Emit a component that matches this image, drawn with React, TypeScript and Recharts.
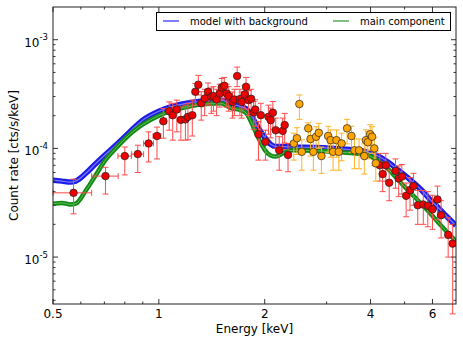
import { ComposedChart, Line, Scatter, XAxis, YAxis, ErrorBar } from "recharts";

// ---------------------------------------------------------------------------
// Layout (page pixels)
// ---------------------------------------------------------------------------

const W = 463;
const H = 342;
const PLOT = { left: 53, right: 456, top: 7, bottom: 304 };
const FONT = "'DejaVu Sans', 'Liberation Sans', sans-serif";

// ---------------------------------------------------------------------------
// Data
// ---------------------------------------------------------------------------

// model curves share one energy grid (keV)
const modelEnergy = [
  0.5, 0.53, 0.56, 0.58, 0.62, 0.66, 0.7, 0.75, 0.8, 0.85, 0.9, 1.0, 1.1, 1.2,
  1.3, 1.4, 1.5, 1.55, 1.6, 1.7, 1.77, 1.82, 1.87, 1.93, 2.0, 2.08, 2.15, 2.25,
  2.4, 2.8, 3.3, 3.9, 4.2, 4.5, 4.8, 5.2, 5.6, 5.9, 6.3, 6.6, 7.0,
];
const modelWithBackground = [
  5.1e-5, 5.0e-5, 4.9e-5, 5.0e-5, 5.9e-5, 7.2e-5, 8.6e-5, 1.05e-4, 1.28e-4,
  1.55e-4, 1.82e-4, 2.2e-4, 2.45e-4, 2.6e-4, 2.7e-4, 2.76e-4, 2.78e-4, 2.7e-4,
  2.56e-4, 2.45e-4, 2.32e-4, 2.08e-4, 1.78e-4, 1.5e-4, 1.26e-4, 1.09e-4,
  1.04e-4, 1.04e-4, 1.03e-4, 1.02e-4, 9.9e-5, 9.3e-5, 8.5e-5, 7.4e-5, 6.3e-5,
  5.1e-5, 4.1e-5, 3.4e-5, 2.75e-5, 2.35e-5, 1.95e-5,
];
const mainComponent = [
  3.1e-5, 3.15e-5, 3.05e-5, 3.1e-5, 4.1e-5, 5.6e-5, 7.6e-5, 9.8e-5, 1.22e-4,
  1.45e-4, 1.66e-4, 2.0e-4, 2.25e-4, 2.4e-4, 2.52e-4, 2.58e-4, 2.6e-4, 2.5e-4,
  2.36e-4, 2.26e-4, 2.12e-4, 1.82e-4, 1.5e-4, 1.2e-4, 9.7e-5, 8.6e-5, 8.4e-5,
  9.0e-5, 9.6e-5, 9.5e-5, 9.2e-5, 8.7e-5, 7.7e-5, 6.4e-5, 5.1e-5, 3.9e-5,
  3.05e-5, 2.55e-5, 2.0e-5, 1.7e-5, 1.4e-5,
];

// source spectrum (red)
const srcEnergy = [
  0.572, 0.705, 0.8, 0.871, 0.935, 0.988, 1.03, 1.07, 1.095, 1.125, 1.155, 1.19,
  1.21, 1.245, 1.27, 1.295, 1.32, 1.35, 1.38, 1.41, 1.43, 1.46, 1.49, 1.51,
  1.535, 1.56, 1.58, 1.62, 1.64, 1.67, 1.7, 1.72, 1.755, 1.77, 1.8, 1.83, 1.86,
  1.88, 1.92, 1.95, 2.01, 2.05, 2.08, 2.11, 2.15, 2.2, 2.25, 2.28, 2.33, 4.25,
  4.33, 4.42, 4.52, 4.71, 4.81, 4.91, 5.05, 5.18, 5.3, 5.45, 5.65, 5.82, 6.0,
  6.2, 6.35, 6.65, 6.85,
];
const srcRate = [
  3.9e-5, 5.56e-5, 8.5e-5, 8.86e-5, 1.11e-4, 1.3e-4, 1.78e-4, 2.2e-4, 2.02e-4,
  2.28e-4, 1.83e-4, 1.85e-4, 1.95e-4, 2.02e-4, 3.32e-4, 3.85e-4, 2.6e-4,
  2.88e-4, 3.32e-4, 2.98e-4, 3.03e-4, 2.82e-4, 3.2e-4, 3.64e-4, 3.77e-4, 3.2e-4,
  3.03e-4, 2.68e-4, 2.82e-4, 4.63e-4, 2.84e-4, 2.68e-4, 3.14e-4, 3.69e-4,
  2.78e-4, 2.86e-4, 2.14e-4, 2.28e-4, 1.35e-4, 2.02e-4, 1.15e-4, 1.95e-4,
  1.82e-4, 2.13e-4, 1.47e-4, 9.6e-5, 1.45e-4, 1.64e-4, 8.7e-5, 7.0e-5, 5.8e-5,
  7.0e-5, 4.83e-5, 6.2e-5, 5.3e-5, 5.5e-5, 3.66e-5, 4.13e-5, 4.5e-5, 3.0e-5,
  3.05e-5, 2.96e-5, 2.75e-5, 3.39e-5, 2.43e-5, 1.6e-5, 1.33e-5,
];
const srcEnergyErr = [
  0.072, 0.061, 0.035, 0.034, 0.03, 0.025, 0.02, 0.018, 0.015, 0.015, 0.015,
  0.015, 0.013, 0.013, 0.013, 0.013, 0.013, 0.013, 0.013, 0.013, 0.012, 0.012,
  0.012, 0.012, 0.012, 0.012, 0.012, 0.012, 0.012, 0.012, 0.012, 0.012, 0.012,
  0.012, 0.012, 0.012, 0.012, 0.012, 0.015, 0.015, 0.015, 0.015, 0.015, 0.015,
  0.015, 0.02, 0.02, 0.02, 0.02, 0.04, 0.04, 0.04, 0.05, 0.05, 0.05, 0.05, 0.06,
  0.06, 0.06, 0.07, 0.07, 0.08, 0.08, 0.09, 0.09, 0.1, 0.1,
];
const srcRateLow = [
  2.5e-5, 3.8e-5, 5.7e-5, 6.0e-5, 7.5e-5, 8.0e-5, 1.24e-4, 1.47e-4, 1.19e-4,
  1.42e-4, 1.19e-4, 1.19e-4, 1.2e-4, 1.3e-4, 2.5e-4, 3.1e-4, 1.82e-4, 2.0e-4,
  2.5e-4, 2.1e-4, 2.2e-4, 2.0e-4, 2.4e-4, 2.8e-4, 2.9e-4, 2.4e-4, 2.2e-4,
  1.9e-4, 2.0e-4, 3.7e-4, 2.0e-4, 1.9e-4, 2.3e-4, 2.8e-4, 2.0e-4, 2.1e-4,
  1.5e-4, 1.6e-4, 7.8e-5, 1.4e-4, 7.8e-5, 1.35e-4, 1.25e-4, 1.5e-4, 1.0e-4,
  6.3e-5, 9.8e-5, 1.12e-4, 6.1e-5, 5.0e-5, 4.0e-5, 5.0e-5, 3.3e-5, 4.3e-5,
  3.6e-5, 3.8e-5, 2.35e-5, 2.7e-5, 3.0e-5, 2.0e-5, 2.0e-5, 1.9e-5, 1.8e-5,
  2.2e-5, 1.5e-5, 1.0e-5, 3.0e-6,
];
const srcRateHigh = [
  5.2e-5, 6.7e-5, 1.03e-4, 1.07e-4, 1.42e-4, 1.57e-4, 2.33e-4, 2.68e-4, 2.6e-4,
  2.78e-4, 2.41e-4, 2.5e-4, 2.6e-4, 2.78e-4, 3.96e-4, 4.7e-4, 3.32e-4, 3.5e-4,
  4.0e-4, 3.6e-4, 3.7e-4, 3.5e-4, 3.9e-4, 4.4e-4, 4.5e-4, 3.9e-4, 3.7e-4,
  3.3e-4, 3.5e-4, 5.6e-4, 3.5e-4, 3.3e-4, 3.8e-4, 4.5e-4, 3.4e-4, 3.5e-4,
  2.7e-4, 2.8e-4, 1.76e-4, 2.6e-4, 1.47e-4, 2.5e-4, 2.35e-4, 2.7e-4, 1.9e-4,
  1.28e-4, 1.9e-4, 2.1e-4, 1.11e-4, 9.0e-5, 7.5e-5, 9.0e-5, 6.3e-5, 8.0e-5,
  6.9e-5, 7.1e-5, 4.8e-5, 5.4e-5, 5.9e-5, 4.1e-5, 4.1e-5, 4.0e-5, 3.7e-5,
  4.5e-5, 3.3e-5, 2.3e-5, 2.0e-5,
];

// second data set (orange)
const bkgEnergy = [
  2.42, 2.47, 2.51, 2.55, 2.66, 2.7, 2.75, 2.8, 2.85, 2.9, 3.03, 3.08, 3.13, 3.2,
  3.25, 3.31, 3.43, 3.53, 3.6, 3.71, 3.84, 3.88, 3.93, 3.99, 4.04, 4.1, 4.14,
];
const bkgRate = [
  1.11e-4, 1.24e-4, 2.56e-4, 9.3e-5, 1.53e-4, 1.22e-4, 9.3e-5, 1.28e-4, 1.39e-4,
  8.5e-5, 1.3e-4, 1.19e-4, 9.3e-5, 1.19e-4, 9.3e-5, 1.11e-4, 1.53e-4, 1.3e-4,
  9.6e-5, 9.6e-5, 8.5e-5, 1.19e-4, 1.14e-4, 1.35e-4, 1.28e-4, 1.0e-4, 7.3e-5,
];
const bkgEnergyErr = [
  0.025, 0.025, 0.025, 0.025, 0.025, 0.025, 0.025, 0.025, 0.025, 0.025, 0.03,
  0.03, 0.03, 0.03, 0.03, 0.03, 0.03, 0.03, 0.03, 0.03, 0.03, 0.03, 0.03, 0.03,
  0.03, 0.03, 0.03,
];
const bkgRateLow = [
  7.8e-5, 8.8e-5, 1.85e-4, 6.3e-5, 1.15e-4, 8.5e-5, 6.3e-5, 9.0e-5, 1.0e-4,
  5.9e-5, 9.2e-5, 8.3e-5, 6.3e-5, 8.3e-5, 6.3e-5, 7.7e-5, 1.1e-4, 9.2e-5,
  6.5e-5, 6.5e-5, 5.8e-5, 8.3e-5, 8.0e-5, 9.6e-5, 9.0e-5, 7.0e-5, 5.0e-5,
];
const bkgRateHigh = [
  1.38e-4, 1.55e-4, 3.1e-4, 1.2e-4, 1.72e-4, 1.5e-4, 1.2e-4, 1.58e-4, 1.7e-4,
  1.03e-4, 1.6e-4, 1.48e-4, 1.2e-4, 1.48e-4, 1.2e-4, 1.38e-4, 1.85e-4, 1.6e-4,
  1.22e-4, 1.22e-4, 1.1e-4, 1.48e-4, 1.42e-4, 1.65e-4, 1.58e-4, 1.25e-4, 9.5e-5,
];

const xMajorTicks = [0.5, 1, 2, 4, 6];
const xMinorTicks = [0.6, 0.7, 0.8, 0.9, 3, 5];
const yMajorTicks = [1e-5, 1e-4, 1e-3];
const yMinorTicks = [
  4e-6, 5e-6, 6e-6, 7e-6, 8e-6, 9e-6, 2e-5, 3e-5, 4e-5, 5e-5, 6e-5, 7e-5, 8e-5,
  9e-5, 2e-4, 3e-4, 4e-4, 5e-4, 6e-4, 7e-4, 8e-4, 9e-4,
];

// ---------------------------------------------------------------------------
// Helpers
// ---------------------------------------------------------------------------

const modelBgData = modelEnergy.map((e, i) => ({ e, v: modelWithBackground[i] }));
const mainData = modelEnergy.map((e, i) => ({ e, v: mainComponent[i] }));

function toPoints(
  energy: number[],
  rate: number[],
  eErr: number[],
  lo: number[],
  hi: number[],
) {
  return energy.map((e, i) => ({
    e,
    v: rate[i],
    ex: [eErr[i], eErr[i]],
    ey: [rate[i] - lo[i], hi[i] - rate[i]],
  }));
}

const srcData = toPoints(srcEnergy, srcRate, srcEnergyErr, srcRateLow, srcRateHigh);
const bkgData = toPoints(bkgEnergy, bkgRate, bkgEnergyErr, bkgRateLow, bkgRateHigh);

const isMajorY = (v: number) => yMajorTicks.some((t) => Math.abs(t - v) / t < 1e-6);

const XTick = (props: any) => {
  const { x, payload } = props;
  const major = xMajorTicks.includes(payload.value);
  const len = major ? 5 : 2.5;
  return (
    <g>
      <line x1={x} y1={PLOT.bottom} x2={x} y2={PLOT.bottom - len} stroke="#333" />
      <line x1={x} y1={PLOT.top} x2={x} y2={PLOT.top + len} stroke="#333" />
      {major && (
        <text x={x} y={PLOT.bottom + 14} textAnchor="middle" fontSize={12} fill="#000">
          {payload.value}
        </text>
      )}
    </g>
  );
};

const YTick = (props: any) => {
  const { y, payload } = props;
  const major = isMajorY(payload.value);
  const len = major ? 5 : 2.5;
  const exp = Math.round(Math.log10(payload.value));
  return (
    <g>
      <line x1={PLOT.left} y1={y} x2={PLOT.left + len} y2={y} stroke="#333" />
      <line x1={PLOT.right} y1={y} x2={PLOT.right - len} y2={y} stroke="#333" />
      {major && (
        <text x={PLOT.left - 5} y={y + 7} textAnchor="end" fontSize={12} fill="#000">
          <tspan>10</tspan>
          <tspan dy={-6.5} fontSize={8.5}>
            {`-${Math.abs(exp)}`}
          </tspan>
        </text>
      )}
    </g>
  );
};

const Dot = (color: string) => (props: any) => {
  const { cx, cy } = props;
  if (cx == null || cy == null) return <g />;
  return <circle cx={cx} cy={cy} r={3.8} fill={color} stroke="#222" strokeWidth={0.7} />;
};

// ---------------------------------------------------------------------------
// Component
// ---------------------------------------------------------------------------

export default function App() {
  return (
    <div
      style={{
        position: "absolute",
        left: 0,
        top: 0,
        width: W,
        height: H,
        background: "#fff",
        fontFamily: FONT,
      }}
    >
      <ComposedChart
        width={W}
        height={H}
        margin={{ top: PLOT.top, right: W - PLOT.right, bottom: 8, left: 0 }}
      >
        <XAxis
          dataKey="e"
          type="number"
          scale="log"
          domain={[0.5, 7]}
          allowDataOverflow
          ticks={[...xMajorTicks, ...xMinorTicks]}
          interval={0}
          height={30}
          axisLine={false}
          tickLine={false}
          tickSize={0}
          tickMargin={0}
          tick={<XTick />}
        />
        <YAxis
          dataKey="v"
          type="number"
          scale="log"
          domain={[3.7e-6, 2e-3]}
          allowDataOverflow
          ticks={[...yMajorTicks, ...yMinorTicks]}
          interval={0}
          width={PLOT.left}
          axisLine={false}
          tickLine={false}
          tickSize={0}
          tickMargin={0}
          tick={<YTick />}
        />

        {/* model with background (blue band) */}
        <Line
          data={modelBgData}
          dataKey="v"
          type="monotone"
          stroke="#1c1ce6"
          strokeWidth={5.5}
          dot={false}
          activeDot={false}
          isAnimationActive={false}
        />
        <Line
          data={modelBgData}
          dataKey="v"
          type="monotone"
          stroke="#7a7aff"
          strokeWidth={1.2}
          dot={false}
          activeDot={false}
          isAnimationActive={false}
        />

        {/* main component (green band) */}
        <Line
          data={mainData}
          dataKey="v"
          type="monotone"
          stroke="#138a13"
          strokeWidth={4.5}
          dot={false}
          activeDot={false}
          isAnimationActive={false}
        />
        <Line
          data={mainData}
          dataKey="v"
          type="monotone"
          stroke="#5cbf5c"
          strokeWidth={1}
          dot={false}
          activeDot={false}
          isAnimationActive={false}
        />

        {/* source spectrum */}
        <Scatter data={srcData} shape={Dot("#ee0000")} isAnimationActive={false}>
          <ErrorBar dataKey="ex" direction="x" stroke="#ff4a4a" strokeWidth={1} width={3} isAnimationActive={false} />
          <ErrorBar dataKey="ey" direction="y" stroke="#ff4a4a" strokeWidth={1} width={3} isAnimationActive={false} />
        </Scatter>

        {/* second data set */}
        <Scatter data={bkgData} shape={Dot("#ffa500")} isAnimationActive={false}>
          <ErrorBar dataKey="ex" direction="x" stroke="#ffb326" strokeWidth={1} width={3} isAnimationActive={false} />
          <ErrorBar dataKey="ey" direction="y" stroke="#ffb326" strokeWidth={1} width={3} isAnimationActive={false} />
        </Scatter>
      </ComposedChart>

      {/* frame, axis titles and legend */}
      <svg
        width={W}
        height={H}
        style={{ position: "absolute", left: 0, top: 0, pointerEvents: "none" }}
      >
        <rect
          x={PLOT.left}
          y={PLOT.top}
          width={PLOT.right - PLOT.left}
          height={PLOT.bottom - PLOT.top}
          fill="none"
          stroke="#222"
          strokeWidth={1}
        />
        <text
          x={(PLOT.left + PLOT.right) / 2}
          y={333}
          textAnchor="middle"
          fontSize={12}
          fill="#000"
        >
          Energy [keV]
        </text>
        <text
          x={18}
          y={(PLOT.top + PLOT.bottom) / 2}
          textAnchor="middle"
          fontSize={12}
          fill="#000"
          transform={`rotate(-90, 18, ${(PLOT.top + PLOT.bottom) / 2})`}
        >
          Count rate [cts/s/keV]
        </text>

        <rect x={156.5} y={12.5} width={294} height={18} fill="#fff" stroke="#000" strokeWidth={1} />
        <line x1={163} y1={21} x2={179} y2={21} stroke="#0000ff" strokeWidth={1} />
        <text x={190} y={24.5} fontSize={10} fill="#000">
          model with background
        </text>
        <line x1={333} y1={21} x2={349} y2={21} stroke="#008000" strokeWidth={1} />
        <text x={360} y={24.5} fontSize={10} fill="#000">
          main component
        </text>
      </svg>
    </div>
  );
}
